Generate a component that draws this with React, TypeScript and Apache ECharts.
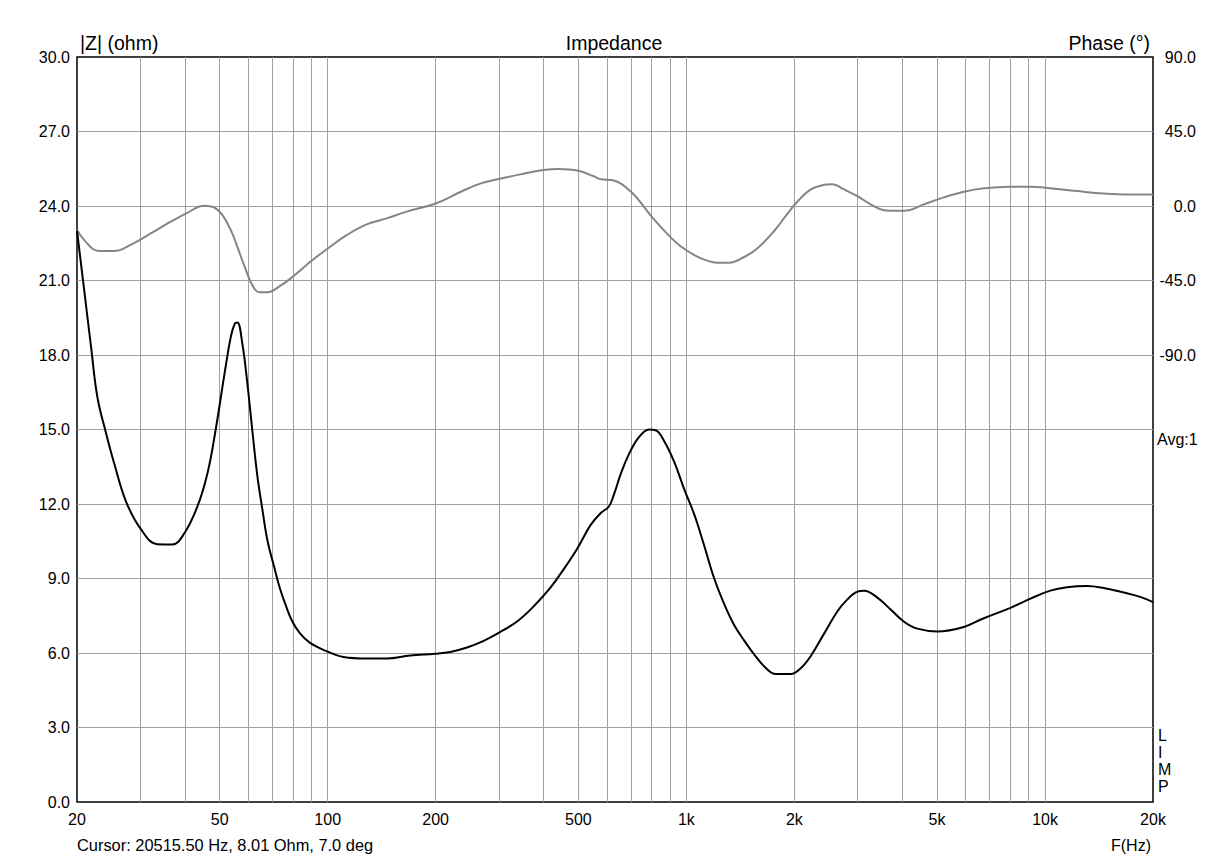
import React, { useEffect, useRef } from "react";
import * as echarts from "echarts";

// ---- Data ----
const impFreq = [
  20, 20.95, 21.9, 22.8, 24.1, 25.4, 27.4, 30.1, 33.5, 36.9, 39.8, 43.3, 46.2, 48.7, 51.4, 53.7, 55.1, 56.0,
  57.8, 59.7, 61.7, 63.7, 65.8, 67.9, 70.9, 73.6, 76.5, 79.5, 83.7, 89.3, 99.4, 110.6, 128.5, 146.2, 169.8,
  199.8, 219.6, 244.5, 272.2, 300.4, 337.3, 375.4, 417.8, 455.3, 496.1, 540.5, 576.4, 608.1, 628, 655.6,
  691.6, 737.7, 786.6, 821, 866, 925, 986, 1053, 1122, 1196, 1276, 1360, 1450, 1546, 1649, 1776, 1956,
  2085, 2223, 2421, 2638, 2812, 2999, 3130, 3408, 3712, 4044, 4404, 5005, 5938, 6750, 8008, 9105, 10346,
  11514, 13091, 14566, 16559, 18421, 20000,
];
const impOhm = [
  23.0, 20.6, 18.3, 16.3, 14.85, 13.63, 12.1, 11.0, 10.38, 10.37, 10.81, 11.89, 13.23, 14.98, 17.12, 18.74,
  19.27, 19.31, 18.47, 16.86, 14.9, 13.1, 11.75, 10.54, 9.47, 8.6, 7.9, 7.3, 6.79, 6.41, 6.07, 5.84, 5.78,
  5.78, 5.9, 5.97, 6.04, 6.22, 6.49, 6.82, 7.27, 7.88, 8.63, 9.38, 10.2, 11.15, 11.63, 11.9, 12.38, 13.19,
  14.01, 14.69, 15.0, 14.97, 14.55, 13.7, 12.6, 11.56, 10.31, 9.0, 7.96, 7.12, 6.5, 5.94, 5.46, 5.15, 5.15,
  5.39, 5.88, 6.78, 7.68, 8.16, 8.47, 8.51, 8.23, 7.75, 7.26, 6.98, 6.87, 7.05, 7.4, 7.82, 8.19, 8.51,
  8.65, 8.7, 8.62, 8.44, 8.26, 8.05,
];
const phaseFreq = [
  20, 20.95, 22.8, 25.4, 28.3, 32.1, 36.5, 40.6, 45.2, 48.2, 50.9, 53.7, 56.0, 58.5, 61.7, 64.4, 67.9, 73.7,
  80, 90, 100, 112.9, 128.4, 146, 166, 200, 235, 266, 300, 344, 400, 440, 500, 550, 579, 619, 700, 800, 900,
  966, 1053, 1122, 1222, 1317, 1450, 1579, 1757, 1914, 2041, 2223, 2421, 2554, 2753, 2999, 3265, 3556, 3873,
  4175, 4596, 5224, 5938, 6750, 8008, 9105, 10346, 12279, 14566, 17282, 20000,
];
const phaseDeg = [
  -14.5, -20.6, -27.0, -27.2, -23.3, -16.6, -9.5, -4.1, 0.2, -0.8, -5.5, -14.6, -24.7, -35.9, -48.0, -52.1,
  -52.1, -48.3, -42.6, -33.2, -25.7, -17.6, -11.1, -7.5, -3.4, 1.5, 8.6, 13.5, 16.3, 19.1, 21.7, 22.3, 21.3,
  18.1, 16.1, 15.7, 8.7, -6.4, -18.5, -24.5, -29.7, -32.4, -34.3, -34.3, -30.8, -25.5, -15.1, -4.6, 2.7, 10,
  12.8, 13.2, 10, 5.9, 1.0, -2.5, -2.9, -2.5, 1.0, 5.2, 8.6, 10.7, 11.7, 11.7, 10.7, 9.0, 7.5, 6.9, 6.9,
];
const gridFreqs = [
  30, 40, 50, 60, 70, 80, 90, 100, 200, 300, 400, 500, 600, 700, 800, 900, 1000, 2000, 3000, 4000, 5000,
  6000, 7000, 8000, 9000, 10000,
];
const labelFreqs = [20, 50, 100, 200, 500, 1000, 2000, 5000, 10000, 20000];
const freqMin = 20;
const freqMax = 20000;
const ohmMin = 0;
const ohmMax = 30;
const ohmStep = 3;
const phaseMin = -360;
const phaseMax = 90;
const phaseStep = 45;
const phaseLabelFloor = -90;

const titleText = "Impedance";
const leftTitle = "|Z| (ohm)";
const rightTitle = "Phase (°)";
const cursorText = "Cursor: 20515.50 Hz, 8.01 Ohm, 7.0 deg";
const freqUnit = "F(Hz)";
const avgText = "Avg:1";
const sideText = "L\nI\nM\nP";

const FONT = '"Liberation Sans", Arial, Helvetica, sans-serif';
const lg = (f: number) => Math.log10(f);
const fmtFreq = (v: number) => {
  const f = Math.round(Math.pow(10, v));
  return f >= 1000 ? f / 1000 + "k" : String(f);
};

export default function App() {
  const ref = useRef<HTMLDivElement>(null);
  useEffect(() => {
    if (!ref.current) return;
    const chart = echarts.init(ref.current, undefined, { renderer: "svg" });
    const labelStyle = { color: "#000", fontSize: 16, fontFamily: FONT };
    const gridColor = "#a0a0a0";
    chart.setOption({
      animation: false,
      backgroundColor: "#fff",
      grid: {
        left: 77,
        right: 75,
        top: 57,
        bottom: 57,
        show: true,
        borderColor: "#000",
        borderWidth: 1.5,
        backgroundColor: "transparent",
      },
      xAxis: {
        type: "value",
        min: lg(freqMin),
        max: lg(freqMax),
        axisLine: { show: false },
        axisTick: { show: false, customValues: gridFreqs.map(lg) },
        axisLabel: { ...labelStyle, margin: 9, customValues: labelFreqs.map(lg), formatter: fmtFreq },
        splitLine: { show: true, lineStyle: { color: gridColor, width: 1 } },
      },
      yAxis: [
        {
          type: "value",
          position: "left",
          min: ohmMin,
          max: ohmMax,
          interval: ohmStep,
          axisLine: { show: false },
          axisTick: { show: false },
          axisLabel: { ...labelStyle, margin: 7, formatter: (v: number) => v.toFixed(1) },
          splitLine: { show: true, showMinLine: false, showMaxLine: false, lineStyle: { color: gridColor, width: 1 } },
        },
        {
          type: "value",
          position: "right",
          min: phaseMin,
          max: phaseMax,
          interval: phaseStep,
          axisLine: { show: false },
          axisTick: { show: false },
          axisLabel: {
            ...labelStyle,
            margin: 43,
            align: "right",
            formatter: (v: number) => (v >= phaseLabelFloor ? v.toFixed(1) : ""),
          },
          splitLine: { show: false },
        },
      ],
      series: [
        {
          type: "line",
          yAxisIndex: 1,
          data: phaseFreq.map((f, i) => [lg(f), phaseDeg[i]]),
          showSymbol: false,
          smooth: 0.4,
          lineStyle: { color: "#858585", width: 2 },
          itemStyle: { color: "#858585" },
          z: 2,
        },
        {
          type: "line",
          yAxisIndex: 0,
          data: impFreq.map((f, i) => [lg(f), impOhm[i]]),
          showSymbol: false,
          smooth: 0.4,
          lineStyle: { color: "#000", width: 2 },
          itemStyle: { color: "#000" },
          z: 3,
        },
      ],
      graphic: [
        {
          type: "text",
          x: 80,
          y: 42.5,
          style: { text: leftTitle, fill: "#000", fontSize: 19.5, fontFamily: FONT, align: "left", verticalAlign: "middle" },
        },
        {
          type: "text",
          x: 614,
          y: 42.5,
          style: { text: titleText, fill: "#000", fontSize: 19.5, fontFamily: FONT, align: "center", verticalAlign: "middle" },
        },
        {
          type: "text",
          x: 1150,
          y: 42.5,
          style: { text: rightTitle, fill: "#000", fontSize: 19.5, fontFamily: FONT, align: "right", verticalAlign: "middle" },
        },
        {
          type: "text",
          x: 1157,
          y: 439,
          style: { text: avgText, fill: "#000", fontSize: 16, fontFamily: FONT, align: "left", verticalAlign: "middle" },
        },
        {
          type: "text",
          x: 1158,
          y: 726.5,
          style: {
            text: sideText,
            fill: "#000",
            fontSize: 16,
            lineHeight: 17,
            fontFamily: FONT,
            align: "left",
            verticalAlign: "top",
          },
        },
        {
          type: "text",
          x: 77,
          y: 845,
          style: { text: cursorText, fill: "#000", fontSize: 16.4, fontFamily: FONT, align: "left", verticalAlign: "middle" },
        },
        {
          type: "text",
          x: 1151,
          y: 845,
          style: { text: freqUnit, fill: "#000", fontSize: 16, fontFamily: FONT, align: "right", verticalAlign: "middle" },
        },
      ],
    });
    return () => chart.dispose();
  }, []);
  return (
    <div
      ref={ref}
      style={{ position: "fixed", left: 0, top: 0, width: 1228, height: 859, background: "#fff" }}
    />
  );
}
